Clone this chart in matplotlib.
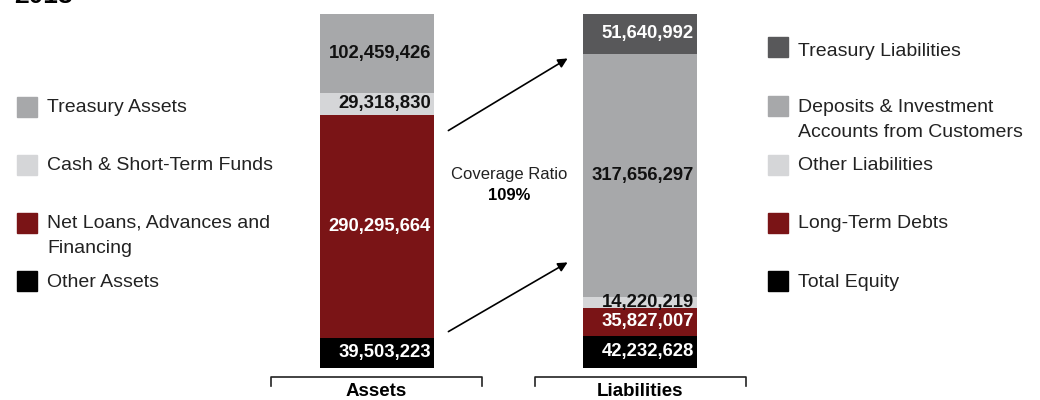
import matplotlib.pyplot as plt
from matplotlib.patches import Rectangle, FancyArrowPatch
from matplotlib.lines import Line2D

plt.rcParams['font.family'] = ['Liberation Sans', 'DejaVu Sans']

# data
asset_labels = ["Treasury Assets", "Cash & Short-Term Funds",
                "Net Loans, Advances and\nFinancing", "Other Assets"]
asset_values = [102459426, 29318830, 290295664, 39503223]
asset_colors = ["#a7a8aa", "#d5d6d8", "#7a1416", "#000000"]

liab_labels = ["Treasury Liabilities", "Deposits & Investment\nAccounts from Customers",
               "Other Liabilities", "Long-Term Debts", "Total Equity"]
liab_values = [51640992, 317656297, 14220219, 35827007, 42232628]
liab_colors = ["#58585a", "#a7a8aa", "#d5d6d8", "#7a1416", "#000000"]

bar_names = ["Assets", "Liabilities"]
coverage = "109%"
year = "2018"

W, H = 1040, 400
fig = plt.figure(figsize=(W / 100, H / 100), dpi=100)

def px(x, y):
    return (x / W, 1 - y / H)

total = sum(asset_values)
top_px, bot_px = 14, 368
scale = total / (bot_px - top_px)
ax = fig.add_axes([0, 0, 1, 1])
ax.set_xlim(0, W)
ax.set_ylim(-(H - bot_px) * scale, total + top_px * scale)
ax.axis("off")

bar_x = [377, 640]
bar_w = 114
text_dark = {"#d5d6d8", "#a7a8aa"}

for xc, vals, cols in [(bar_x[0], asset_values, asset_colors),
                       (bar_x[1], liab_values, liab_colors)]:
    # stack from the bottom, top item is listed first
    bottom = 0
    for v, c in zip(vals[::-1], cols[::-1]):
        ax.bar(xc, v, width=bar_w, bottom=bottom, color=c, linewidth=0)
        tc = "#111111" if c in text_dark else "white"
        ax.text(xc + bar_w / 2 - 3, bottom + v / 2, f"{v:,}", ha="right", va="center",
                fontsize=13.3, color=tc, fontweight="bold")
        bottom += v

# legends
def legend(items, colors, x, sq_tops, baselines):
    for lab, c, st, b in zip(items, colors, sq_tops, baselines):
        fig.patches.append(Rectangle(px(x, st + 20), 20 / W, 20 / H, color=c,
                                     transform=fig.transFigure, figure=fig))
        for i, line in enumerate(lab.split("\n")):
            fig.text(*px(x + 30, b + 25 * i), line, fontsize=14, color="#222222",
                     va="baseline")

legend(asset_labels, asset_colors, 17, [97, 155, 213, 271], [112, 170, 228, 287])
legend(liab_labels, liab_colors, 768, [37, 96, 155, 213, 271], [56, 112, 170, 228, 287])

# arrows
for (x0, y0), (x1, y1) in [((446, 132), (570, 57)), ((446, 333), (570, 261))]:
    fig.add_artist(FancyArrowPatch(px(x0, y0), px(x1, y1), transform=fig.transFigure,
                                   arrowstyle="-|>", mutation_scale=14,
                                   color="black", lw=1.2))

fig.text(*px(509, 174), "Coverage Ratio", fontsize=12, ha="center", va="center",
         color="#222222")
fig.text(*px(509, 196), coverage, fontsize=12, ha="center", va="center",
         fontweight="bold")

# brackets and bar names
for (xl, xr), name in zip([(271, 482), (535, 746)], bar_names):
    xs = [xl, xl, xr, xr]
    ys = [386, 377, 377, 386]
    fig.add_artist(Line2D([x / W for x in xs], [1 - y / H for y in ys],
                          color="#222222", lw=1.2, transform=fig.transFigure))
    fig.text(*px((xl + xr) / 2, 392), name, fontsize=13.5, ha="center", va="center",
             fontweight="bold")

fig.text(*px(14, 3), year, fontsize=19, fontweight="bold", va="baseline")

fig.savefig("out.png", dpi=100)
